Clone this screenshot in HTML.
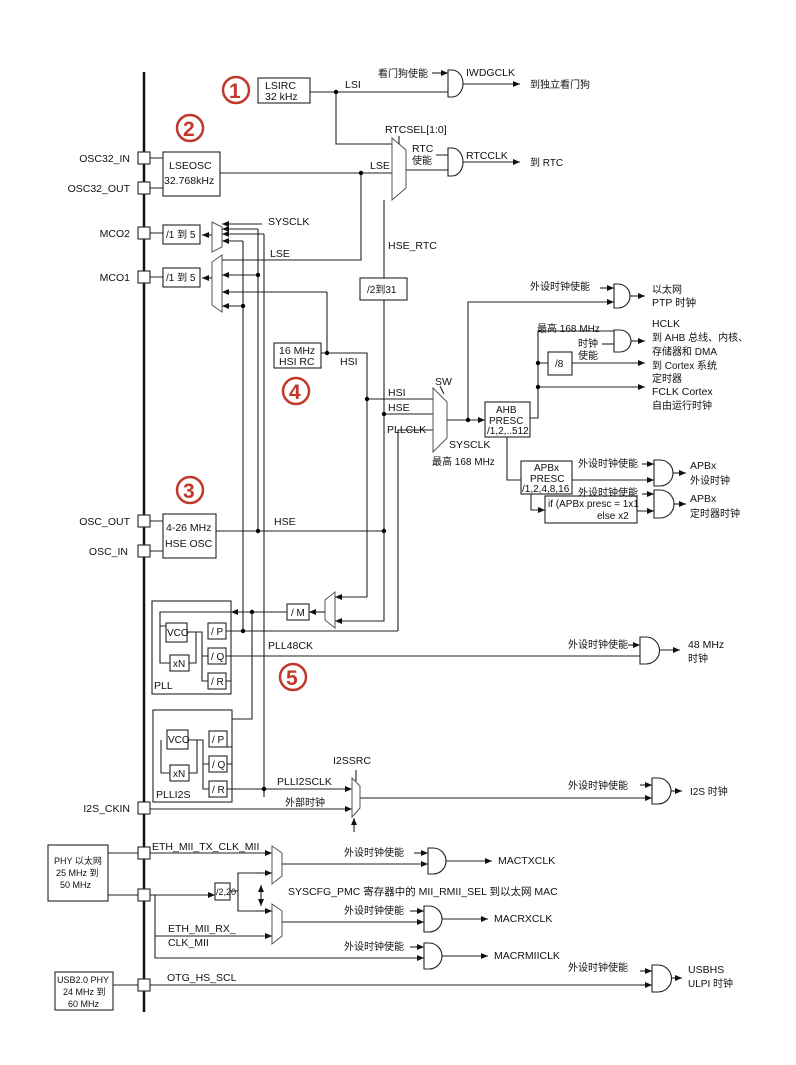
<!DOCTYPE html>
<html><head><meta charset="utf-8"><style>
html,body{margin:0;padding:0;background:#fff}
svg{display:block}
text{font-family:"Liberation Sans","Noto Sans CJK SC",sans-serif;font-size:10.5px;fill:#111}
.c{font-size:10px}
.l{stroke:#222;stroke-width:1.1;fill:none}
.b{stroke:#222;stroke-width:1.1;fill:#fff}
.m{stroke:#555;stroke-width:1;fill:#fff}
.r{fill:none;stroke:#c0392b;stroke-width:2.5}
.rt{fill:#c0392b;font-size:21px;font-weight:bold}
</style></head><body>
<svg width="796" height="1065" viewBox="0 0 796 1065" xmlns="http://www.w3.org/2000/svg">
<defs>
<marker id="a" markerWidth="8" markerHeight="8" refX="7" refY="4" orient="auto" markerUnits="userSpaceOnUse"><path d="M0,1 L7,4 L0,7z" fill="#111"/></marker>
</defs>
<rect width="796" height="1065" fill="#fff"/>
<line x1="144" y1="72" x2="144" y2="1012" stroke="#111" stroke-width="2.5"/>
<g class="b">
<rect x="138" y="152" width="12" height="12"/><rect x="138" y="182" width="12" height="12"/>
<rect x="138" y="227" width="12" height="12"/><rect x="138" y="271" width="12" height="12"/>
<rect x="138" y="515" width="12" height="12"/><rect x="138" y="545" width="12" height="12"/>
<rect x="138" y="802" width="12" height="12"/><rect x="138" y="847" width="12" height="12"/>
<rect x="138" y="889" width="12" height="12"/><rect x="138" y="979" width="12" height="12"/>
</g>
<g text-anchor="end">
<text x="130" y="162">OSC32_IN</text><text x="130" y="192">OSC32_OUT</text>
<text x="130" y="237">MCO2</text><text x="130" y="281">MCO1</text>
<text x="130" y="525">OSC_OUT</text><text x="128" y="555">OSC_IN</text>
<text x="130" y="812">I2S_CKIN</text>
</g>
<circle class="r" cx="236" cy="90" r="13"/><text class="rt" x="229" y="98">1</text>
<circle class="r" cx="190" cy="128" r="13"/><text class="rt" x="183" y="136">2</text>
<circle class="r" cx="190" cy="490" r="13"/><text class="rt" x="183" y="498">3</text>
<circle class="r" cx="296" cy="391" r="13"/><text class="rt" x="289" y="399">4</text>
<circle class="r" cx="293" cy="677" r="13"/><text class="rt" x="286" y="685">5</text>

<rect class="b" x="258" y="78" width="52" height="25"/>
<text x="265" y="89">LSIRC</text><text x="265" y="100">32 kHz</text>
<path class="l" d="M310,92 H448 M336,92 V144 H392"/>
<circle cx="336" cy="92" r="2.2"/>
<text x="345" y="88">LSI</text>
<text x="378" y="77" class="c">看门狗使能</text>
<path class="l" d="M432,73 H448" marker-end="url(#a)"/>
<path class="b" d="M448,70 H452 A11,13.5 0 0 1 452,97 H448 Z"/>
<text x="466" y="76">IWDGCLK</text>
<path class="l" d="M463,84 H520" marker-end="url(#a)"/>
<text x="530" y="88" class="c">到独立看门狗</text>

<rect class="b" x="163" y="152" width="57" height="44"/>
<text x="169" y="169">LSEOSC</text><text x="164" y="184">32.768kHz</text>
<path class="l" d="M150,158 H163 M150,188 H163 M220,173 H392 M361,173 V260 H222"/>
<circle cx="361" cy="173" r="2.2"/>
<text x="370" y="169">LSE</text>
<path class="m" d="M392,138 L406,150 L406,188 L392,200 Z"/>
<text x="385" y="133">RTCSEL[1:0]</text>
<path class="l" d="M399,136 V144"/>
<text x="412" y="152">RTC</text><text x="412" y="164" class="c">使能</text>
<path class="l" d="M406,170 H448 M436,155 H448"/>
<path class="b" d="M448,148 H452 A11,14 0 0 1 452,176 H448 Z"/>
<text x="466" y="159">RTCCLK</text>
<path class="l" d="M463,162 H520" marker-end="url(#a)"/>
<text x="530" y="166" class="c">到 RTC</text>
<path class="l" d="M384,200 V278 M384,300 V531"/>
<text x="388" y="249">HSE_RTC</text>
<rect class="b" x="360" y="278" width="47" height="22"/>
<text x="367" y="293" class="c">/2到31</text>

<rect class="b" x="163" y="225" width="37" height="19"/><text x="166" y="238" class="c">/1 到 5</text>
<rect class="b" x="163" y="268" width="37" height="19"/><text x="166" y="281" class="c">/1 到 5</text>
<path class="l" d="M150,233 H163 M150,277 H163"/>
<path class="l" d="M212,235 H202" marker-end="url(#a)"/>
<path class="l" d="M212,278 H202" marker-end="url(#a)"/>
<path class="m" d="M212,222 L222,227 L222,247 L212,252 Z"/>
<path class="m" d="M212,262 L222,255 L222,312 L212,305 Z"/>
<text x="268" y="225">SYSCLK</text>
<text x="270" y="257">LSE</text>
<g class="l">
<path d="M262,224 H222" marker-end="url(#a)"/>
<path d="M258,229 H222" marker-end="url(#a)"/>
<path d="M258,229 V531"/>
<path d="M264,234 H222" marker-end="url(#a)"/>
<path d="M264,234 V797"/>
<path d="M243,241 H222" marker-end="url(#a)"/>
<path d="M243,241 V631"/>
<path d="M258,275 H222" marker-end="url(#a)"/>
<path d="M327,292 H222" marker-end="url(#a)"/>
<path d="M243,306 H222" marker-end="url(#a)"/>
</g>
<circle cx="258" cy="275" r="2.2"/><circle cx="243" cy="306" r="2.2"/>

<rect class="b" x="274" y="343" width="47" height="25"/>
<text x="279" y="354">16 MHz</text><text x="279" y="365">HSI RC</text>
<path class="l" d="M321,353 H367 V597 M327,353 V292"/>
<circle cx="327" cy="353" r="2.2"/>
<text x="340" y="365">HSI</text>
<path class="l" d="M367,399 H433 M384,414 H433 M398,631 V430 H433"/>
<circle cx="367" cy="399" r="2.2"/><circle cx="384" cy="414" r="2.2"/>
<text x="388" y="396">HSI</text><text x="388" y="411">HSE</text><text x="387" y="433">PLLCLK</text>
<path class="m" d="M433,388 L447,402 L447,438 L433,452 Z"/>
<path class="l" d="M440,386 L444,394"/>
<text x="435" y="385">SW</text>
<text x="449" y="448">SYSCLK</text>
<text x="432" y="465" class="c">最高 168 MHz</text>
<path class="l" d="M447,420 H485" marker-end="url(#a)"/>
<path class="l" d="M468,420 V302 H614" marker-end="url(#a)"/>
<circle cx="468" cy="420" r="2.2"/>
<text x="530" y="290" class="c">外设时钟使能</text>
<path class="l" d="M600,288 H614" marker-end="url(#a)"/>
<path class="b" d="M614,284 H618 A12,12 0 0 1 618,308 H614 Z"/>
<path class="l" d="M630,296 H645" marker-end="url(#a)"/>
<text x="652" y="293" class="c">以太网</text><text x="652" y="306">PTP 时钟</text>
<rect class="b" x="485" y="402" width="45" height="35"/>
<text x="496" y="413" class="c">AHB</text><text x="489" y="424" class="c">PRESC</text><text x="487" y="434" class="c">/1,2,..512</text>
<path class="l" d="M530,418 H538 V331 H614 M538,363 H548"/>
<path class="l" d="M572,363 H645" marker-end="url(#a)"/>
<path class="l" d="M538,387 H645" marker-end="url(#a)"/>
<circle cx="538" cy="363" r="2.2"/><circle cx="538" cy="387" r="2.2"/>
<text x="537" y="332" class="c">最高 168 MHz</text>
<text x="578" y="347" class="c">时钟</text><text x="578" y="359" class="c">使能</text>
<path class="l" d="M602,344 H614"/>
<path class="b" d="M614,330 H620 A11,11 0 0 1 620,352 H614 Z"/>
<path class="l" d="M631,341 H645" marker-end="url(#a)"/>
<rect class="b" x="548" y="352" width="24" height="23"/><text x="555" y="367" class="c">/8</text>
<text x="652" y="327">HCLK</text>
<text x="652" y="341" class="c">到 AHB 总线、内核、</text>
<text x="652" y="355" class="c">存储器和 DMA</text>
<text x="652" y="369" class="c">到 Cortex 系统</text>
<text x="652" y="382" class="c">定时器</text>
<text x="652" y="395">FCLK Cortex</text>
<text x="652" y="409" class="c">自由运行时钟</text>
<path class="l" d="M507,437 V480 H521"/>
<rect class="b" x="521" y="461" width="51" height="33"/>
<text x="534" y="471" class="c">APBx</text><text x="530" y="482" class="c">PRESC</text><text x="522" y="492" class="c">/1,2,4,8,16</text>
<path class="l" d="M572,480 H654" marker-end="url(#a)"/>
<path class="l" d="M531,494 V510 H545" marker-end="url(#a)"/>
<rect class="b" x="545" y="496" width="92" height="27"/>
<text x="548" y="507" class="c">if (APBx presc = 1x1</text><text x="597" y="519" class="c">else x2</text>
<path class="l" d="M637,511 H654" marker-end="url(#a)"/>
<text x="578" y="467" class="c">外设时钟使能</text><text x="578" y="496" class="c">外设时钟使能</text>
<path class="l" d="M642,464 H654" marker-end="url(#a)"/>
<path class="l" d="M642,494 H654" marker-end="url(#a)"/>
<path class="b" d="M654,460 H660 A13,13 0 0 1 660,486 H654 Z"/>
<path class="b" d="M654,490 H660 A14,14 0 0 1 660,518 H654 Z"/>
<path class="l" d="M673,473 H686" marker-end="url(#a)"/>
<path class="l" d="M674,504 H686" marker-end="url(#a)"/>
<text x="690" y="469">APBx</text><text x="690" y="484" class="c">外设时钟</text>
<text x="690" y="502">APBx</text><text x="690" y="517" class="c">定时器时钟</text>

<rect class="b" x="163" y="514" width="53" height="44"/>
<text x="166" y="531">4-26 MHz</text><text x="165" y="547">HSE OSC</text>
<path class="l" d="M150,521 H163 M150,551 H163 M216,531 H384"/>
<circle cx="258" cy="531" r="2.2"/><circle cx="384" cy="531" r="2.2"/>
<text x="274" y="525">HSE</text>
<path class="m" d="M325,600 L335,592 L335,628 L325,620 Z"/>
<path class="l" d="M367,597 H335" marker-end="url(#a)"/>
<path class="l" d="M384,531 V621 H335" marker-end="url(#a)"/>
<path class="l" d="M325,612 H309" marker-end="url(#a)"/>
<rect class="b" x="287" y="604" width="22" height="16"/><text x="291" y="616" class="c">/ M</text>
<path class="l" d="M287,612 H231" marker-end="url(#a)"/>
<circle cx="252" cy="612" r="2.2"/>
<path class="l" d="M252,612 V719 H161 V740 H167"/>
<rect class="b" x="152" y="601" width="79" height="93"/>
<path class="l" d="M231,612 H160 V626 H166 M160,626 V663 H170"/>
<rect class="b" x="166" y="623" width="21" height="19"/><text x="167" y="636" class="c">VCO</text>
<rect class="b" x="170" y="655" width="19" height="16"/><text x="173" y="667" class="c">xN</text>
<path class="l" d="M187,632 H196 V663 H189 M196,632 H202 V681 H208 M202,656 H208"/>
<rect class="b" x="208" y="623" width="18" height="16"/><text x="211" y="635" class="c">/ P</text>
<rect class="b" x="208" y="648" width="18" height="16"/><text x="211" y="660" class="c">/ Q</text>
<rect class="b" x="208" y="673" width="18" height="16"/><text x="211" y="685" class="c">/ R</text>
<text x="154" y="689">PLL</text>
<path class="l" d="M226,631 H398 M226,656 H640 M226,681 H231"/>
<circle cx="243" cy="631" r="2.2"/>
<text x="268" y="649">PLL48CK</text>
<rect class="b" x="153" y="710" width="79" height="92"/>
<rect class="b" x="167" y="730" width="21" height="19"/><text x="168" y="743" class="c">VCO</text>
<rect class="b" x="170" y="765" width="19" height="16"/><text x="173" y="777" class="c">xN</text>
<path class="l" d="M161,740 V773 H170 M188,740 H197 V773 H189 M197,740 H203 V789 H209 M203,764 H209"/>
<rect class="b" x="209" y="731" width="18" height="16"/><text x="212" y="743" class="c">/ P</text>
<rect class="b" x="209" y="756" width="18" height="16"/><text x="212" y="768" class="c">/ Q</text>
<rect class="b" x="209" y="781" width="18" height="16"/><text x="212" y="793" class="c">/ R</text>
<text x="156" y="798">PLLI2S</text>
<path class="l" d="M227,789 H352" marker-end="url(#a)"/>
<circle cx="264" cy="789" r="2.2"/>
<path class="l" d="M227,747 H232 M227,764 H232"/>
<text x="277" y="785">PLLI2SCLK</text>
<text x="285" y="806" class="c">外部时钟</text>
<path class="l" d="M150,809 H352" marker-end="url(#a)"/>
<path class="m" d="M352,778 L360,786 L360,808 L352,817 Z"/>
<text x="333" y="764">I2SSRC</text>
<path class="l" d="M356,770 V781"/>
<path class="l" d="M354,832 V818" marker-end="url(#a)"/>
<text x="568" y="648" class="c">外设时钟使能</text>
<path class="l" d="M628,645 H640" marker-end="url(#a)"/>
<path class="b" d="M640,637 H646 A13.5,13.5 0 0 1 646,664 H640 Z"/>
<path class="l" d="M660,650 H680" marker-end="url(#a)"/>
<text x="688" y="648">48 MHz</text><text x="688" y="662" class="c">时钟</text>
<path class="l" d="M360,798 H652" marker-end="url(#a)"/>
<text x="568" y="789" class="c">外设时钟使能</text>
<path class="l" d="M640,785 H652" marker-end="url(#a)"/>
<path class="b" d="M652,778 H658 A13,13 0 0 1 658,804 H652 Z"/>
<path class="l" d="M671,791 H682" marker-end="url(#a)"/>
<text x="690" y="795" class="c">I2S 时钟</text>

<rect class="b" x="48" y="845" width="60" height="56"/>
<text x="54" y="864" class="c" style="font-size:9px">PHY 以太网</text>
<text x="56" y="876" class="c" style="font-size:9px">25 MHz 到</text>
<text x="60" y="888" class="c" style="font-size:9px">50 MHz</text>
<path class="l" d="M108,853 H138 M108,895 H138"/>
<path class="l" d="M150,853 H272" marker-end="url(#a)"/>
<text x="152" y="850">ETH_MII_TX_CLK_MII</text>
<path class="l" d="M150,895 H215" marker-end="url(#a)"/>
<rect class="b" x="215" y="883" width="15" height="17"/><text x="216" y="895" class="c" style="font-size:9px">/2,20</text>
<path class="l" d="M230,891 H238 V873 H272 M238,891 V911 H272"/>
<path class="l" d="M256,873 H272" marker-end="url(#a)"/>
<path class="l" d="M256,911 H272" marker-end="url(#a)"/>
<path class="m" d="M272,846 L282,853 L282,876 L272,884 Z"/>
<path class="m" d="M272,904 L282,911 L282,936 L272,944 Z"/>
<path class="l" d="M261,897 V885" marker-end="url(#a)"/>
<path class="l" d="M261,897 V906" marker-end="url(#a)"/>
<text x="288" y="895">SYSCFG_PMC 寄存器中的 MII_RMII_SEL 到以太网 MAC</text>
<path class="l" d="M155,895 V958 H424" marker-end="url(#a)"/>
<path class="l" d="M155,936 H272" marker-end="url(#a)"/>
<text x="168" y="932">ETH_MII_RX_</text><text x="168" y="946">CLK_MII</text>
<path class="l" d="M282,864 H428" marker-end="url(#a)"/>
<path class="l" d="M282,922 H424" marker-end="url(#a)"/>
<text x="344" y="856" class="c">外设时钟使能</text>
<text x="344" y="914" class="c">外设时钟使能</text>
<text x="344" y="950" class="c">外设时钟使能</text>
<path class="l" d="M414,853 H428" marker-end="url(#a)"/>
<path class="l" d="M410,911 H424" marker-end="url(#a)"/>
<path class="l" d="M410,947 H424" marker-end="url(#a)"/>
<path class="b" d="M428,848 H433 A13,13 0 0 1 433,874 H428 Z"/>
<path class="b" d="M424,906 H429 A13,13 0 0 1 429,932 H424 Z"/>
<path class="b" d="M424,943 H429 A13,13 0 0 1 429,969 H424 Z"/>
<path class="l" d="M446,861 H492" marker-end="url(#a)"/>
<path class="l" d="M442,919 H488" marker-end="url(#a)"/>
<path class="l" d="M442,956 H488" marker-end="url(#a)"/>
<text x="498" y="864">MACTXCLK</text>
<text x="494" y="922">MACRXCLK</text>
<text x="494" y="959">MACRMIICLK</text>
<rect class="b" x="55" y="972" width="58" height="38"/>
<text x="57" y="983" class="c" style="font-size:9px">USB2.0 PHY</text>
<text x="63" y="995" class="c" style="font-size:9px">24 MHz 到</text>
<text x="68" y="1007" class="c" style="font-size:9px">60 MHz</text>
<path class="l" d="M113,985 H138 M150,985 H652"/>
<path class="l" d="M640,985 H652" marker-end="url(#a)"/>
<text x="167" y="981">OTG_HS_SCL</text>
<text x="568" y="971" class="c">外设时钟使能</text>
<path class="l" d="M640,971 H652" marker-end="url(#a)"/>
<path class="b" d="M652,965 H658 A13.5,13.5 0 0 1 658,992 H652 Z"/>
<path class="l" d="M672,978 H682" marker-end="url(#a)"/>
<text x="688" y="973">USBHS</text><text x="688" y="987" class="c">ULPI 时钟</text>
</svg>
</body></html>
